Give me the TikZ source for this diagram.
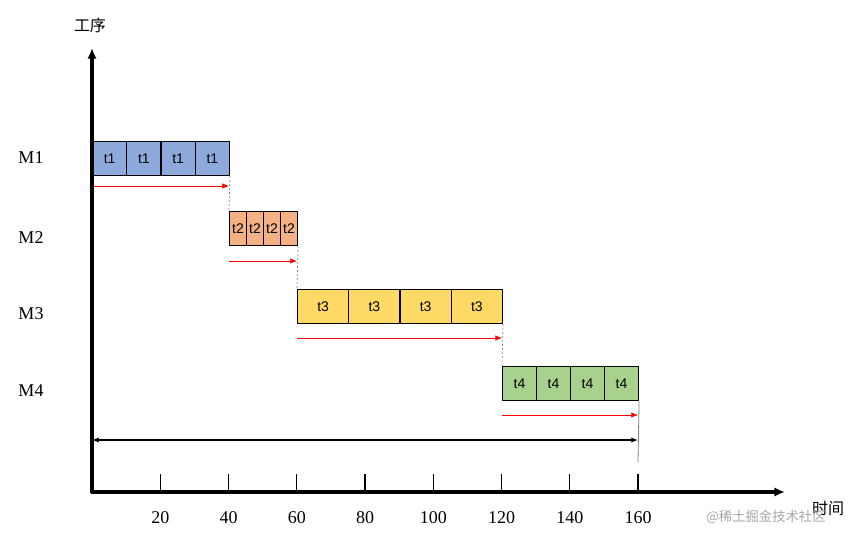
\documentclass[tikz,border=0pt]{standalone}
\usepackage{fontspec}
\setmainfont{Liberation Serif}
\newfontfamily\cjk{Noto Sans CJK SC}
\newfontfamily\lsans{Liberation Sans}
\usetikzlibrary{arrows.meta}
\definecolor{cb}{HTML}{8EA9DB}
\definecolor{co}{HTML}{F4B183}
\definecolor{cy}{HTML}{FFD966}
\definecolor{cg}{HTML}{A9D18E}
\begin{document}
\begin{tikzpicture}[x=0.75pt,y=-0.75pt,
  cell/.style={draw=black,line width=0.8pt,minimum height=25.5pt,inner sep=0pt,font=\lsans\fontsize{10.5}{12}\selectfont},
  red/.style={draw=red,-{Latex[length=5pt,width=4pt]},line width=0.5pt},
  guide/.style={draw=gray,dashed,line width=0.5pt,dash pattern=on 1.5pt off 1.5pt},
  lab/.style={font=\fontsize{13.5}{15}\selectfont}]
\useasboundingbox (0,0) rectangle (865,544);
% cells
\foreach \i in {0,...,3}{
  \node[cell,fill=cb,minimum width=25.6pt,anchor=north west] (a\i) at ({92+\i*34.25},141) {t1};
  \node[cell,fill=co,minimum width=12.75pt,anchor=north west] (b\i) at ({229+\i*17},211) {t2};
  \node[cell,fill=cy,minimum width=38.4pt,anchor=north west] (c\i) at ({297+\i*51.25},289) {t3};
  \node[cell,fill=cg,minimum width=25.5pt,anchor=north west] (d\i) at ({502+\i*34},366) {t4};
}
% guides
\draw[guide] (a3.south east) -- (b0.north west);
\draw[guide] (b3.south east) -- (c0.north west);
\draw[guide] (c3.south east) -- (d0.north west);
\coordinate (e) at (638,462);
\draw[gray,line width=0.6pt] (d3.south east) -- (e);
% red arrows
\coordinate (r1s) at (92,186); \coordinate (r1e) at (229,186);
\coordinate (r2s) at (229,261); \coordinate (r2e) at (297,261);
\coordinate (r3s) at (297,338); \coordinate (r3e) at (502,338);
\coordinate (r4s) at (502,415); \coordinate (r4e) at (638,415);
\draw[red] (r1s) -- (r1e);
\draw[red] (r2s) -- (r2e);
\draw[red] (r3s) -- (r3e);
\draw[red] (r4s) -- (r4e);
% double arrow
\coordinate (ds) at (92,440); \coordinate (de) at (638,440);
\draw[line width=1pt,{Latex[length=5pt,width=4pt]}-{Latex[length=5pt,width=4pt]}] (ds) -- (de);
% axes
\coordinate (o) at (92,492); \coordinate (yt) at (92,48); \coordinate (xt) at (785,492);
\draw[line width=2.4pt,-{Latex[length=8pt,width=7pt]}] ([yshift=-1.1pt]o) -- (yt);
\draw[line width=2.4pt,-{Latex[length=8pt,width=7pt]}] ([xshift=-1.1pt]o) -- (xt);
\foreach \k/\v in {1/20,2/40,3/60,4/80,5/100,6/120,7/140,8/160}{
  \draw[line width=1pt] ({92+\k*68.25},492) -- ({92+\k*68.25},474);
  \node[lab] (t\k) at ({92+\k*68.25},518) {\v};
}
\node[font=\cjk\large] (ylab) at (90,25) {工序};
\node[font=\cjk\large] (xlab) at (828,508) {时间};
\node[font=\cjk\normalsize,text=gray!70] (wm) at (766,517) {@稀土掘金技术社区};
\node[lab] (m1) at (31,158) {M1};
\node[lab] (m2) at (31,238) {M2};
\node[lab] (m3) at (31,314) {M3};
\node[lab] (m4) at (31,391) {M4};
\end{tikzpicture}
\end{document}
